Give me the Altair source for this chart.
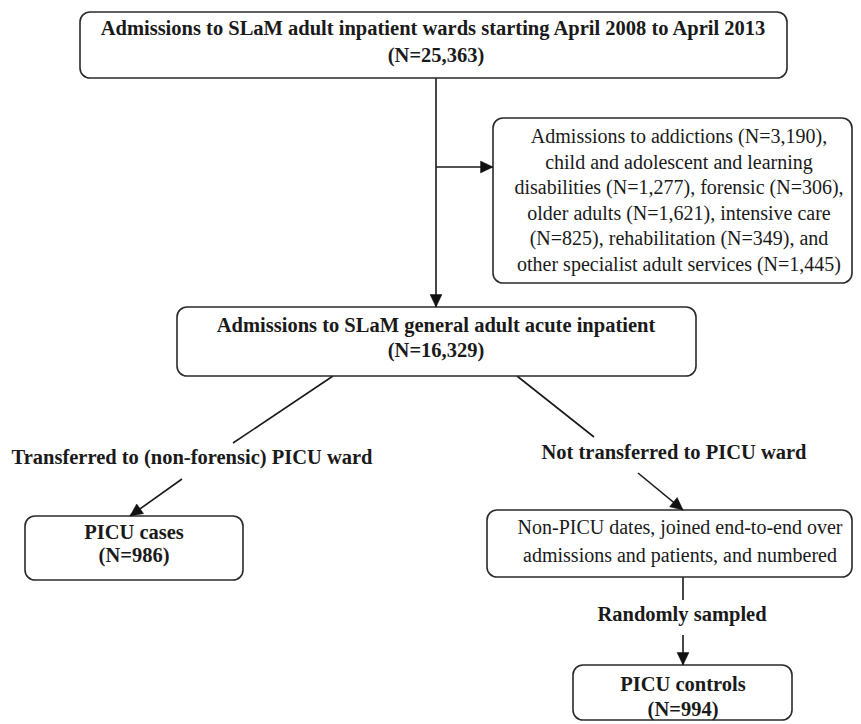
import math
import altair as alt
import pandas as pd

# ---- flowchart content (page-pixel layout units) ----
box_names = ["all", "excluded", "acute", "cases", "nonpicu", "controls"]
box_x1 = [80, 493, 177, 25, 487, 573]
box_x2 = [787, 852, 696, 243, 852, 792]
box_y1 = [12, 118, 307, 516, 510, 665]
box_y2 = [78, 283, 376, 580, 577, 720]

bold_text = [
    "Admissions to SLaM adult inpatient wards starting April 2008 to April 2013",
    "(N=25,363)",
    "Admissions to SLaM general adult acute inpatient",
    "(N=16,329)",
    "Transferred to (non-forensic) PICU ward",
    "Not transferred to PICU ward",
    "PICU cases",
    "(N=986)",
    "Randomly sampled",
    "PICU controls",
    "(N=994)",
]
bold_x = [433, 436, 436, 436, 192, 674, 134, 134, 682, 683, 683]
bold_y = [29, 56, 326, 351, 458, 453, 533, 556, 615, 685, 710]

reg_text = [
    "Admissions to addictions (N=3,190),",
    "child and adolescent and learning",
    "disabilities (N=1,277), forensic (N=306),",
    "older adults (N=1,621), intensive care",
    "(N=825), rehabilitation (N=349), and",
    "other specialist adult services (N=1,445)",
    "Non-PICU dates, joined end-to-end over",
    "admissions and patients, and numbered",
]
reg_x = [679, 679, 679, 679, 679, 679, 680, 680]
reg_y = [137, 163, 188, 214, 239, 265, 528, 556]

line_x1 = [436, 436, 333, 182, 517, 638, 683, 683]
line_y1 = [78, 167, 376, 479, 376, 473, 577, 635]
line_x2 = [436, 493, 233, 130, 594, 683, 683, 683]
line_y2 = [307, 167, 443, 516, 437, 510, 600, 665]
line_arrow = [True, True, False, True, False, True, False, True]

boxes = pd.DataFrame({"name": box_names, "x1": box_x1, "x2": box_x2,
                      "y1": box_y1, "y2": box_y2})
bold_df = pd.DataFrame({"t": bold_text, "x": bold_x, "y": bold_y})
reg_df = pd.DataFrame({"t": reg_text, "x": reg_x, "y": reg_y})
lines = pd.DataFrame({"x1": line_x1, "y1": line_y1, "x2": line_x2,
                      "y2": line_y2, "arrow": line_arrow})
heads = lines[lines["arrow"]].copy()
heads["angle"] = [
    (math.degrees(math.atan2(r.x2 - r.x1, -(r.y2 - r.y1))) + 360) % 360
    for r in heads.itertuples()
]

W, H = 845, 713
xs = alt.Scale(domain=[8, 8 + W], range=[0, W])
ys = alt.Scale(domain=[8, 8 + H], range=[0, H])
noax = None

FONT = "Liberation Serif"
FS_B = 20.5
FS_R = 20

box_layer = alt.Chart(boxes).mark_rect(
    fill="white", stroke="#2a2a2a", strokeWidth=1.6, cornerRadius=10
).encode(
    x=alt.X("x1:Q", scale=xs, axis=noax), x2="x2:Q",
    y=alt.Y("y1:Q", scale=ys, axis=noax), y2="y2:Q",
)

line_layer = alt.Chart(lines).mark_rule(color="#1a1a1a", strokeWidth=1.6).encode(
    x=alt.X("x1:Q", scale=xs, axis=noax), x2="x2:Q",
    y=alt.Y("y1:Q", scale=ys, axis=noax), y2="y2:Q",
)

head_layer = alt.Chart(heads).mark_point(
    shape="M0,0L-0.5,1.05L0.5,1.05Z", filled=True, fill="#111", stroke="#111",
    strokeWidth=0.5, opacity=1, size=560,
).encode(
    x=alt.X("x2:Q", scale=xs, axis=noax),
    y=alt.Y("y2:Q", scale=ys, axis=noax),
    angle=alt.Angle("angle:Q", scale=None),
)

bold_layer = alt.Chart(bold_df).mark_text(
    font=FONT, fontSize=FS_B, fontWeight="bold", color="#1a1a1a",
    align="center", baseline="middle",
).encode(
    x=alt.X("x:Q", scale=xs, axis=noax),
    y=alt.Y("y:Q", scale=ys, axis=noax),
    text="t:N",
)

reg_layer = alt.Chart(reg_df).mark_text(
    font=FONT, fontSize=FS_R, color="#1a1a1a", align="center", baseline="middle",
).encode(
    x=alt.X("x:Q", scale=xs, axis=noax),
    y=alt.Y("y:Q", scale=ys, axis=noax),
    text="t:N",
)

chart = alt.layer(
    line_layer, box_layer, head_layer, bold_layer, reg_layer
).properties(
    width=W, height=H, padding=0, background="white"
).configure_view(stroke=None)

chart.save("out.html", embed_options={"renderer": "svg", "actions": False})
